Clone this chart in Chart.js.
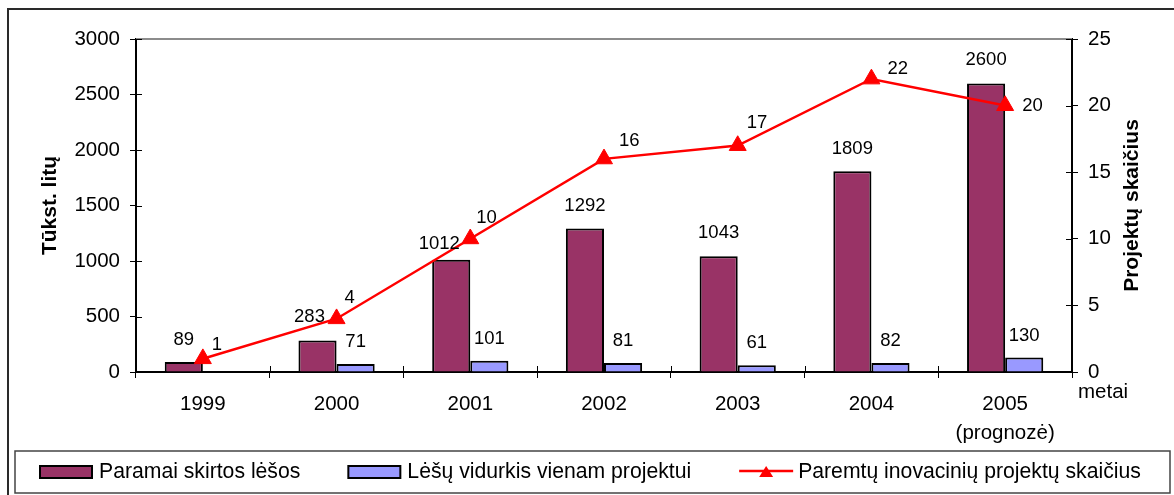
<!DOCTYPE html>
<html>
<head>
<meta charset="utf-8">
<script src="https://cdn.jsdelivr.net/npm/chart.js@4.4.0/dist/chart.umd.min.js"></script>
<style>
  html, body { margin: 0; padding: 0; background: #fff; overflow: hidden; }
  #wrap { position: relative; width: 1174px; height: 495px; }
  #frame {
    position: absolute; left: 7px; top: 8px; width: 1180px; height: 500px;
    border: 2px solid #2a2a2a; box-sizing: border-box; pointer-events: none;
  }
</style>
</head>
<body>
<div id="wrap">
  <canvas id="chart" width="1174" height="495"></canvas>
  <div id="frame"></div>
</div>
<script>
// chart data
const years = ['1999', '2000', '2001', '2002', '2003', '2004', ['2005', '(prognozė)']];
const supportFunds = [89, 283, 1012, 1292, 1043, 1809, 2600];      // Tūkst. litų
const avgPerProject = [null, 71, 101, 81, 61, 82, 130];            // Tūkst. litų
const projectCount = [1, 4, 10, 16, 17, 22, 20];                   // right axis
const seriesNames = ['Paramai skirtos lėšos', 'Lėšų vidurkis vienam projektui', 'Paremtų inovacinių projektų skaičius'];
const fundsAxis = { max: 3000, step: 500 };
const countAxis = { max: 25, step: 5 };

// label nudges (dx, dy in px)
const fundsLabelShift = [[0, 0], [-8, -2], [-12, 6], [0, -1], [0, -1], [0, 0], [0, -1]];
const countLabelShift = [[9, -14], [8, -21], [6, -21], [15, -18], [9, -23], [16, -10], [17, 0]];

const FONT = '"Liberation Sans", Arial, sans-serif';
const PLOT_BOTTOM = 372;
const PAD = { left: 10, right: 2, top: 39 };
const LEGEND = { left: 15, top: 451, height: 42, firstX: 40, gap: 48 };

Chart.defaults.font.family = FONT;
Chart.defaults.color = '#000';

// value labels next to the marks
const valueLabels = {
    id: 'valueLabels',
    afterDatasetsDraw(chart) {
        const ctx = chart.ctx;
        ctx.save();
        ctx.font = '18.5px ' + FONT;
        ctx.fillStyle = '#000';
        ctx.textBaseline = 'middle';
        chart.data.datasets.forEach((ds, di) => {
            const meta = chart.getDatasetMeta(di);
            meta.data.forEach((el, i) => {
                const v = ds.data[i];
                if (v == null) return;
                if (ds.type === 'line') {
                    const s = countLabelShift[i];
                    ctx.textAlign = 'left';
                    ctx.fillText(String(v), el.x + s[0], el.y + s[1]);
                } else {
                    const s = di === 0 ? fundsLabelShift[i] : [0, 0];
                    ctx.textAlign = 'center';
                    ctx.fillText(String(v), el.x + s[0], el.y - 22 + s[1]);
                }
            });
        });
        ctx.restore();
    }
};

// boxed legend under the chart
const boxLegend = {
    id: 'boxLegend',
    afterDraw(chart) {
        const ctx = chart.ctx;
        const cy = LEGEND.top + LEGEND.height / 2;
        ctx.save();
        ctx.strokeStyle = '#444';
        ctx.lineWidth = 1.5;
        ctx.strokeRect(LEGEND.left, LEGEND.top, chart.width - LEGEND.left - 4, LEGEND.height);

        ctx.font = '21.2px ' + FONT;
        ctx.textBaseline = 'middle';
        ctx.textAlign = 'left';
        let x = LEGEND.firstX;
        chart.data.datasets.forEach(ds => {
            let iconW;
            if (ds.type === 'line') {
                iconW = 54;
                ctx.strokeStyle = ds.borderColor;
                ctx.lineWidth = 2.5;
                ctx.beginPath();
                ctx.moveTo(x, cy - 1); ctx.lineTo(x + iconW, cy - 1);
                ctx.stroke();
                ctx.fillStyle = ds.pointBackgroundColor;
                ctx.beginPath();
                ctx.moveTo(x + 27, cy - 6);
                ctx.lineTo(x + 34, cy + 5);
                ctx.lineTo(x + 20, cy + 5);
                ctx.closePath();
                ctx.fill();
                x += iconW + 5;
            } else {
                iconW = 52;
                ctx.fillStyle = ds.backgroundColor;
                ctx.fillRect(x, cy - 6, iconW, 12);
                ctx.strokeStyle = '#000';
                ctx.lineWidth = 2;
                ctx.strokeRect(x, cy - 6, iconW, 12);
                x += iconW + 7;
            }
            ctx.fillStyle = '#000';
            ctx.fillText(ds.label, x, cy);
            x += ctx.measureText(ds.label).width + LEGEND.gap;
        });
        ctx.restore();
    }
};

// top border line, inner halves of tick marks, "metai", right axis title
const extras = {
    id: 'extras',
    afterDraw(chart) {
        const { ctx, chartArea, scales } = chart;
        const area = chartArea;
        ctx.save();

        ctx.strokeStyle = '#8c8c8c';
        ctx.lineWidth = 2;
        ctx.beginPath();
        ctx.moveTo(area.left, area.top); ctx.lineTo(area.right, area.top);
        ctx.stroke();

        ctx.strokeStyle = '#000';
        ctx.lineWidth = 1;
        ctx.beginPath();
        scales.y.ticks.forEach(t => {
            const py = Math.round(scales.y.getPixelForValue(t.value)) + 0.5;
            ctx.moveTo(area.left, py); ctx.lineTo(area.left + 6, py);
        });
        scales.y1.ticks.forEach(t => {
            const py = Math.round(scales.y1.getPixelForValue(t.value)) + 0.5;
            ctx.moveTo(area.right - 6, py); ctx.lineTo(area.right, py);
        });
        const half = (scales.x.getPixelForValue(1) - scales.x.getPixelForValue(0)) / 2;
        for (let i = 0; i <= years.length; i++) {
            const px = Math.round(scales.x.getPixelForValue(i) - half) + 0.5;
            ctx.moveTo(px, area.bottom - 6); ctx.lineTo(px, area.bottom);
        }
        ctx.stroke();

        ctx.fillStyle = '#000';
        ctx.font = '20.5px ' + FONT;
        ctx.textAlign = 'left';
        ctx.textBaseline = 'middle';
        ctx.fillText('metai', area.right + 6, area.bottom + 20);

        ctx.translate(scales.y1.left + 60, (area.top + area.bottom) / 2);
        ctx.rotate(-Math.PI / 2);
        ctx.font = 'bold 21px ' + FONT;
        ctx.textAlign = 'center';
        ctx.fillText('Projektų skaičius', 0, 0);
        ctx.restore();
    }
};

const tickFont = { size: 20.5, family: FONT };
const plainNumber = v => String(v);

new Chart(document.getElementById('chart'), {
    type: 'bar',
    data: {
        labels: years,
        datasets: [
            {
                label: seriesNames[0],
                data: supportFunds,
                yAxisID: 'y',
                backgroundColor: '#993366',
                borderColor: '#000',
                borderWidth: 2,
                order: 1
            },
            {
                label: seriesNames[1],
                data: avgPerProject,
                yAxisID: 'y',
                backgroundColor: '#9999ff',
                borderColor: '#000',
                borderWidth: 2,
                order: 1
            },
            {
                type: 'line',
                label: seriesNames[2],
                data: projectCount,
                yAxisID: 'y1',
                borderColor: '#ff0000',
                borderWidth: 2.5,
                pointStyle: 'triangle',
                pointRadius: 9.8,
                pointBackgroundColor: '#ff0000',
                pointBorderColor: '#ff0000',
                pointBorderWidth: 1,
                tension: 0,
                order: 0
            }
        ]
    },
    options: {
        responsive: false,
        animation: false,
        layout: { padding: { left: PAD.left, right: PAD.right, top: PAD.top, bottom: 0 } },
        datasets: {
            bar: { categoryPercentage: 0.57, barPercentage: 1 }
        },
        plugins: {
            tooltip: { enabled: false },
            legend: { display: false }
        },
        scales: {
            x: {
                grid: { offset: true, drawOnChartArea: false, tickLength: 6, tickColor: '#000', tickWidth: 1 },
                border: { color: '#000', width: 2 },
                ticks: { color: '#000', font: Object.assign({ lineHeight: 1.42 }, tickFont), padding: 12, maxRotation: 0, autoSkip: false },
                afterFit: s => { s.height = s.chart.height - PLOT_BOTTOM; }
            },
            y: {
                position: 'left',
                min: 0,
                max: fundsAxis.max,
                ticks: { stepSize: fundsAxis.step, color: '#000', font: tickFont, padding: 10, callback: plainNumber },
                grid: { drawOnChartArea: false, tickColor: '#000', tickWidth: 1, tickLength: 6 },
                border: { color: '#000', width: 2 },
                title: {
                    display: true,
                    text: 'Tūkst. litų',
                    color: '#000',
                    font: { size: 21, weight: 'bold', family: FONT },
                    padding: { top: 28, bottom: 0 }
                },
                afterFit: s => { s.width = 126; }
            },
            y1: {
                position: 'right',
                min: 0,
                max: countAxis.max,
                ticks: { stepSize: countAxis.step, color: '#000', font: tickFont, padding: 10, callback: plainNumber },
                grid: { drawOnChartArea: false, tickColor: '#000', tickWidth: 1, tickLength: 6 },
                border: { color: '#000', width: 2 },
                afterFit: s => { s.width = 100; }
            }
        }
    },
    plugins: [valueLabels, boxLegend, extras]
});
</script>
</body>
</html>
